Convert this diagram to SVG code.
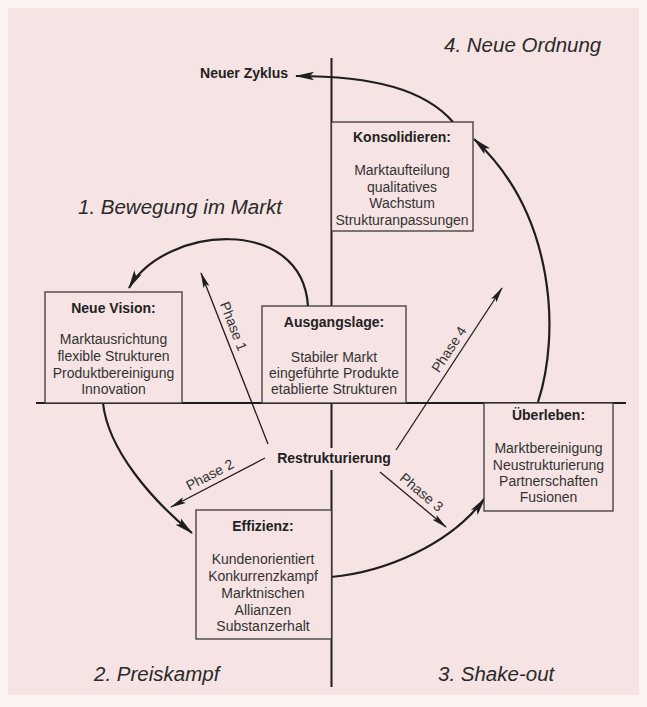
<svg xmlns="http://www.w3.org/2000/svg" width="647" height="707" viewBox="0 0 647 707">
<defs>
<style>
.box{fill:#f6e3e4;stroke:#3a3a3a;stroke-width:1.3}
.t{font-family:"Liberation Sans",Arial,sans-serif;font-size:14px;fill:#333;text-anchor:middle}
.h{font-weight:bold;fill:#222}
.q{font-family:"Liberation Sans",Arial,sans-serif;font-size:20.5px;font-style:italic;fill:#2a2a2a}
.pl{font-family:"Liberation Sans",Arial,sans-serif;font-size:14px;fill:#333;text-anchor:middle}
.axis{stroke:#1e1e1e;stroke-width:2;fill:none}
.arc{stroke:#1e1e1e;stroke-width:2.2;fill:none;marker-end:url(#big)}
.ph{stroke:#1e1e1e;stroke-width:1.3;fill:none;marker-end:url(#small)}
</style>
<marker id="big" markerUnits="userSpaceOnUse" markerWidth="20" markerHeight="10" refX="18" refY="5" orient="auto" viewBox="0 0 20 10"><path d="M0,0.8 L19,5 L0,9.2 L4,5 z" fill="#1e1e1e"/></marker>
<marker id="small" markerUnits="userSpaceOnUse" markerWidth="17" markerHeight="8" refX="15" refY="4" orient="auto" viewBox="0 0 17 8"><path d="M0,0.8 L16,4 L0,7.2 L3,4 z" fill="#1e1e1e"/></marker>
</defs>
<rect x="0" y="0" width="647" height="707" fill="#fcf3f3"/>
<rect x="8" y="8" width="631" height="687" fill="#f6e3e4"/>
<g id="axes">
<line class="axis" x1="331.5" y1="58" x2="331.5" y2="448"/>
<line class="axis" x1="331.5" y1="470" x2="331.5" y2="687"/>
<line class="axis" x1="36" y1="403" x2="626" y2="403"/>
</g>
<g id="connectors">
<path class="arc" d="M453,122 C425,90 375,76 296,76"/>
<path class="arc" d="M538,402 C560,335 556,215 474,139"/>
<path class="arc" d="M308,306 C302,215 165,225 129,288"/>
<path class="arc" d="M103,403 C108,450 152,500 192,533"/>
<path class="arc" d="M331,577 C385,572 450,545 485,498"/>
<line class="ph" x1="268" y1="444" x2="201" y2="273"/>
<line class="ph" x1="265" y1="458" x2="171" y2="507"/>
<line class="ph" x1="380" y1="472" x2="446" y2="527"/>
<line class="ph" x1="396" y1="450" x2="502" y2="288"/>
<text class="pl" transform="translate(229,328) rotate(68.6)">Phase 1</text>
<text class="pl" transform="translate(212,479) rotate(-27.5)">Phase 2</text>
<text class="pl" transform="translate(418.5,496) rotate(39.8)">Phase 3</text>
<text class="pl" transform="translate(453,352) rotate(-56.8)">Phase 4</text>
</g>
<g id="labels">
<text class="q" x="444" y="52">4. Neue Ordnung</text>
<text class="q" x="78" y="214">1. Bewegung im Markt</text>
<text class="q" x="94" y="681">2. Preiskampf</text>
<text class="q" x="438" y="681">3. Shake-out</text>
</g>
<g id="neuer-zyklus">
<text class="t h" x="288" y="78" style="text-anchor:end">Neuer Zyklus</text>
</g>
<g id="restrukturierung">
<text class="t h" x="334" y="463">Restrukturierung</text>
</g>
<g id="konsolidieren">
<rect class="box" x="331.5" y="122" width="141.5" height="109"/>
<text class="t h" x="402" y="142">Konsolidieren:</text>
<text class="t" x="402" y="175">Marktaufteilung</text>
<text class="t" x="402" y="191.5">qualitatives</text>
<text class="t" x="402" y="208">Wachstum</text>
<text class="t" x="402" y="224.5">Strukturanpassungen</text>
</g>
<g id="neue-vision">
<rect class="box" x="45" y="292" width="137" height="111"/>
<text class="t h" x="113.5" y="313">Neue Vision:</text>
<text class="t" x="113.5" y="344">Marktausrichtung</text>
<text class="t" x="113.5" y="361">flexible Strukturen</text>
<text class="t" x="113.5" y="377.5">Produktbereinigung</text>
<text class="t" x="113.5" y="394">Innovation</text>
</g>
<g id="ausgangslage">
<rect class="box" x="262" y="306" width="144" height="97"/>
<text class="t h" x="334" y="327">Ausgangslage:</text>
<text class="t" x="334" y="362">Stabiler Markt</text>
<text class="t" x="334" y="378">eingeführte Produkte</text>
<text class="t" x="334" y="394">etablierte Strukturen</text>
</g>
<g id="ueberleben">
<rect class="box" x="484" y="403" width="129" height="108"/>
<text class="t h" x="548.5" y="420">Überleben:</text>
<text class="t" x="548.5" y="453">Marktbereinigung</text>
<text class="t" x="548.5" y="469.5">Neustrukturierung</text>
<text class="t" x="548.5" y="486">Partnerschaften</text>
<text class="t" x="548.5" y="502">Fusionen</text>
</g>
<g id="effizienz">
<rect class="box" x="196" y="510" width="135.5" height="129"/>
<text class="t h" x="263" y="531">Effizienz:</text>
<text class="t" x="263" y="564">Kundenorientiert</text>
<text class="t" x="263" y="581">Konkurrenzkampf</text>
<text class="t" x="263" y="598">Marktnischen</text>
<text class="t" x="263" y="614.5">Allianzen</text>
<text class="t" x="263" y="631">Substanzerhalt</text>
</g>
</svg>
